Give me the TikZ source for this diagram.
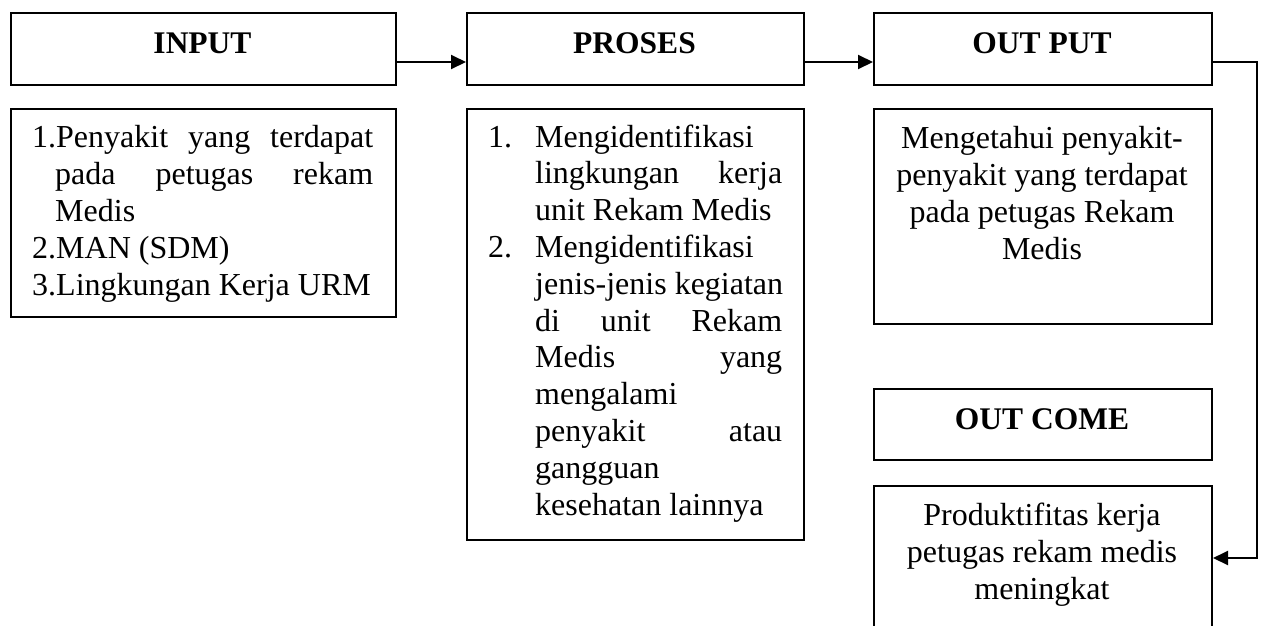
\documentclass[tikz,border=0pt]{standalone}
\usepackage{fontspec}
\setmainfont{Liberation Serif}
\usetikzlibrary{arrows.meta}
\begin{document}
\begin{tikzpicture}[x=1pt,y=-1pt,
  box/.style={draw, line width=2pt, rectangle, inner sep=0pt, anchor=north west},
  hd/.style={font=\fontsize{31.5}{37}\selectfont\bfseries, inner sep=0pt, anchor=base},
  bd/.style={font=\fontsize{32}{37}\selectfont, inner sep=0pt},
  conn/.style={line width=2pt, -{Triangle[length=15pt,width=14pt]}}]
\useasboundingbox (0,0) rectangle (1264,625);
\clip (0,0) rectangle (1264,625);
% boxes
\node[box, minimum width=385pt, minimum height=72pt] (inputH) at (10,12) {};
\node[box, minimum width=385pt, minimum height=208pt] (inputB) at (10,108) {};
\node[box, minimum width=337pt, minimum height=72pt] (prosesH) at (466,12) {};
\node[box, minimum width=337pt, minimum height=431pt] (prosesB) at (466,108) {};
\node[box, minimum width=338pt, minimum height=72pt] (outputH) at (873,12) {};
\node[box, minimum width=338pt, minimum height=215pt] (outputB) at (873,108) {};
\node[box, minimum width=338pt, minimum height=71pt] (outcomeH) at (873,388) {};
\node[box, minimum width=338pt, minimum height=150pt] (outcomeB) at (873,485) {};
% headers
\node[hd] (inputT) at (202.5,53) {INPUT};
\node[hd] (prosesT) at (634.5,53) {PROSES};
\node[hd] (outputT) at (1042,53) {OUT PUT};
\node[hd] (outcomeT) at (1042,429) {OUT COME};
% body texts
\node[bd, anchor=base west] (inputTxt) at (32,147) {\vtop{\baselineskip=37pt
  \hbox to 341pt{1.Penyakit\hfill yang\hfill terdapat}
  \hbox to 341pt{\hspace*{23pt}pada\hfill petugas\hfill rekam}
  \hbox{\hspace*{23pt}Medis}
  \hbox{2.MAN (SDM)}
  \hbox{3.Lingkungan Kerja URM}}};
\node[bd, anchor=base west] (prosesTxt) at (488,147) {\vtop{\baselineskip=36.8pt
  \hbox to 294pt{\hbox to 47pt{1.\hss}Mengidentifikasi\hfill}
  \hbox to 294pt{\hspace*{47pt}lingkungan\hfill kerja}
  \hbox{\hspace*{47pt}unit Rekam Medis}
  \hbox{\hbox to 47pt{2.\hss}Mengidentifikasi}
  \hbox{\hspace*{47pt}jenis-jenis kegiatan}
  \hbox to 294pt{\hspace*{47pt}di\hfill unit\hfill Rekam}
  \hbox to 294pt{\hspace*{47pt}Medis\hfill yang}
  \hbox{\hspace*{47pt}mengalami}
  \hbox to 294pt{\hspace*{47pt}penyakit\hfill atau}
  \hbox{\hspace*{47pt}gangguan}
  \hbox{\hspace*{47pt}kesehatan lainnya}}};
\node[bd, anchor=base] (outputTxt) at (1042,148) {\begin{tabular}[t]{@{}c@{}}
  Mengetahui penyakit-\\ penyakit yang terdapat\\ pada petugas Rekam\\ Medis\end{tabular}};
\node[bd, anchor=base] (outcomeTxt) at (1042,525) {\begin{tabular}[t]{@{}c@{}}
  Produktifitas kerja\\ petugas rekam medis\\ meningkat\end{tabular}};
% connectors
\coordinate (turn) at (1257,558);
\draw[conn] ([yshift=-13pt]inputH.east) -- ([yshift=-13pt]prosesH.west);
\draw[conn] ([yshift=-13pt]prosesH.east) -- ([yshift=-13pt]outputH.west);
\draw[conn] ([yshift=-13pt]outputH.east) -| (turn) -- (outcomeB.east |- turn);
\end{tikzpicture}
\end{document}
